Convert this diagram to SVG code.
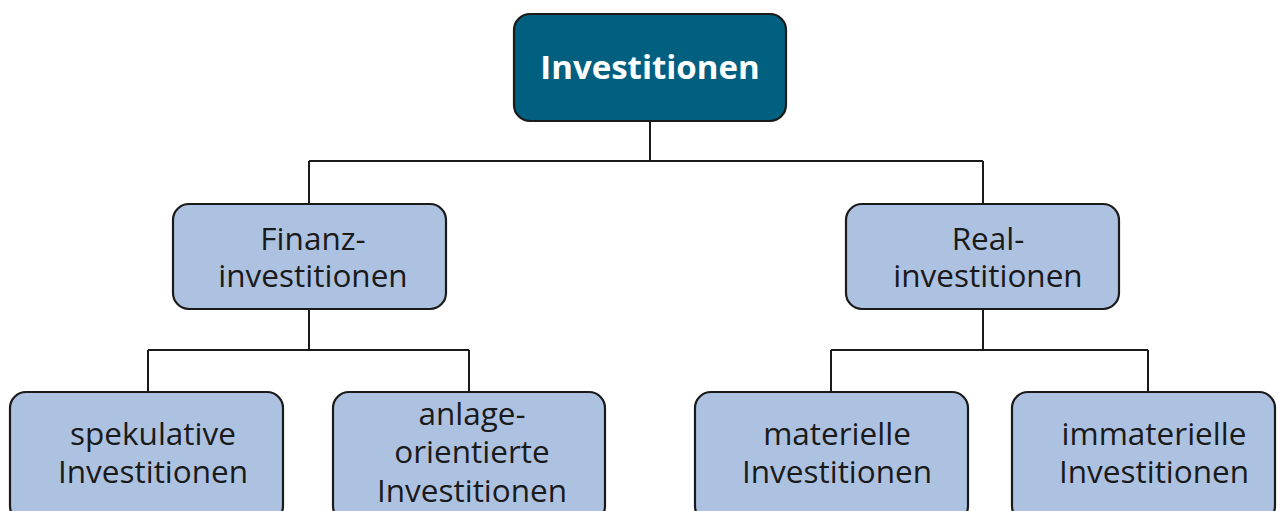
<svg xmlns="http://www.w3.org/2000/svg" width="1284" height="511" viewBox="0 0 1284 511">
  <style>
    .box { fill: #adc2e1; stroke: #1a1a1a; stroke-width: 2.2; }
    .root { fill: #015f7f; stroke: #1a1a1a; stroke-width: 2.2; }
    .lbl { font-family: "Open Sans", "Liberation Sans", sans-serif; font-size: 31.5px; fill: #1a1a1a; text-anchor: middle; }
    .rootlbl { font-family: "Open Sans", "Liberation Sans", sans-serif; font-size: 33px; font-weight: bold; fill: #ffffff; text-anchor: middle; }
    .wire { fill: none; stroke: #1a1a1a; stroke-width: 2; }
  </style>

  <!-- tree connectors -->
  <g id="connectors">
    <path class="wire" d="M650 121 V161 M309 161 H983 M309 161 V204 M983 161 V204"/>
    <path class="wire" d="M309 309 V350 M148 350 H469 M148 350 V392 M469 350 V392"/>
    <path class="wire" d="M983 309 V350 M831 350 H1148 M831 350 V392 M1148 350 V392"/>
  </g>

  <g id="investitionen">
    <rect class="root" x="514" y="14" width="272" height="107" rx="16"/>
    <text class="rootlbl" x="650" y="79">Investitionen</text>
  </g>

  <g id="finanzinvestitionen">
    <rect class="box" x="173" y="204" width="273" height="105" rx="16"/>
    <text class="lbl" x="313" y="250">Finanz-</text>
    <text class="lbl" x="313" y="287">investitionen</text>
  </g>

  <g id="realinvestitionen">
    <rect class="box" x="846" y="204" width="273" height="105" rx="16"/>
    <text class="lbl" x="988" y="250">Real-</text>
    <text class="lbl" x="988" y="287">investitionen</text>
  </g>

  <g id="spekulative">
    <rect class="box" x="10" y="392" width="273" height="130" rx="16"/>
    <text class="lbl" x="153" y="445">spekulative</text>
    <text class="lbl" x="153" y="483">Investitionen</text>
  </g>

  <g id="anlageorientierte">
    <rect class="box" x="333" y="392" width="272" height="130" rx="16"/>
    <text class="lbl" x="472" y="425">anlage-</text>
    <text class="lbl" x="472" y="463">orientierte</text>
    <text class="lbl" x="472" y="502">Investitionen</text>
  </g>

  <g id="materielle">
    <rect class="box" x="695" y="392" width="273" height="130" rx="16"/>
    <text class="lbl" x="837" y="445">materielle</text>
    <text class="lbl" x="837" y="483">Investitionen</text>
  </g>

  <g id="immaterielle">
    <rect class="box" x="1012" y="392" width="263" height="130" rx="16"/>
    <text class="lbl" x="1154" y="445">immaterielle</text>
    <text class="lbl" x="1154" y="483">Investitionen</text>
  </g>
</svg>
